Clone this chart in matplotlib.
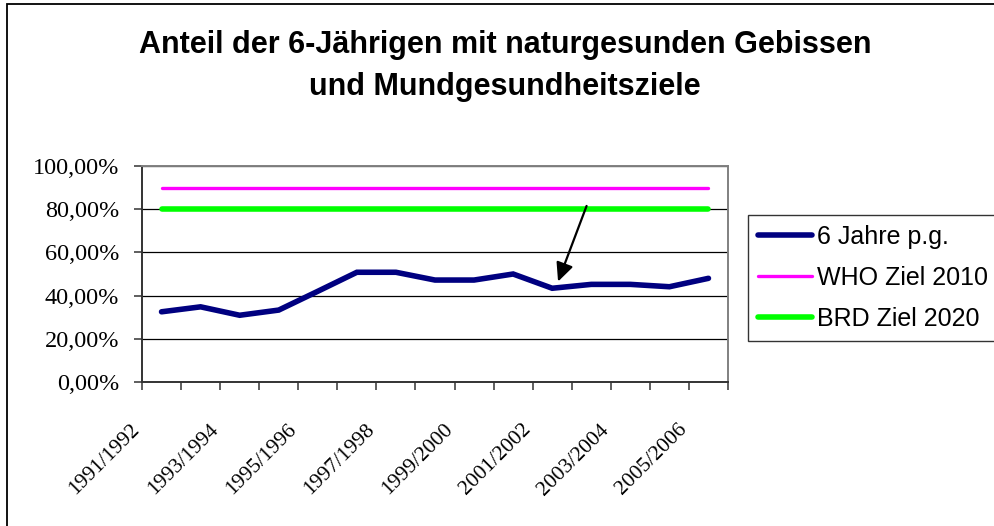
import matplotlib
matplotlib.use("Agg")
import matplotlib.pyplot as plt
from matplotlib.transforms import ScaledTranslation
from matplotlib.patches import Rectangle

# ---------------- data ----------------
categories = ["1991/1992", "1992/1993", "1993/1994", "1994/1995", "1995/1996",
              "1996/1997", "1997/1998", "1998/1999", "1999/2000", "2000/2001",
              "2001/2002", "2002/2003", "2003/2004", "2004/2005", "2005/2006"]
kids_6 = [32.5, 34.8, 30.9, 33.3, 42.0, 50.8, 50.8, 47.2, 47.2, 50.0,
          43.4, 45.2, 45.2, 44.1, 48.0]
who_2010 = [90.0, 90.0, 90.0, 90.0, 90.0, 90.0, 90.0, 90.0, 90.0, 90.0,
            90.0, 90.0, 90.0, 90.0, 90.0]
brd_2020 = [80.0, 80.0, 80.0, 80.0, 80.0, 80.0, 80.0, 80.0, 80.0, 80.0,
            80.0, 80.0, 80.0, 80.0, 80.0]
series_names = ["6 Jahre p.g.", "WHO Ziel 2010", "BRD Ziel 2020"]
y_ticks = [0, 20, 40, 60, 80, 100]
y_tick_labels = ["0,00%", "20,00%", "40,00%", "60,00%", "80,00%", "100,00%"]
title = "Anteil der 6-Jährigen mit naturgesunden Gebissen\nund Mundgesundheitsziele"

# ---------------- figure ----------------
W, H = 994, 526
fig = plt.figure(figsize=(W / 100, H / 100), dpi=100)
fig.patch.set_facecolor("white")

ax = fig.add_axes([142 / W, 1 - 382 / H, 586 / W, 216 / H])
x = list(range(len(categories)))

ax.plot(x, kids_6, color="#000080", lw=4.0, solid_capstyle="round",
        solid_joinstyle="miter", label=series_names[0], zorder=4)
ax.plot(x, who_2010, color="#FF00FF", lw=2.4, solid_capstyle="round",
        label=series_names[1], zorder=3)
ax.plot(x, brd_2020, color="#00FF00", lw=4.0, solid_capstyle="round",
        label=series_names[2], zorder=3)

ax.set_xlim(-0.5, len(categories) - 0.5)
ax.set_ylim(0, 100)

# grid
ax.set_yticks(y_ticks)
ax.set_yticklabels(y_tick_labels, family="Liberation Serif", fontsize=17.5)
ax.yaxis.grid(True, color="black", lw=0.9)
ax.set_axisbelow(True)
ax.tick_params(axis="y", direction="out", length=6, width=1.1, pad=10.5,
               color="#333333")

# x ticks: major at category boundaries, minor (labelled) at centers
ax.set_xticks([i - 0.5 for i in range(len(categories) + 1)])
ax.set_xticklabels([])
ax.tick_params(axis="x", which="major", direction="out", length=6, width=1.1,
               color="#333333")
ax.set_xticks(x[::2], minor=True)
ax.set_xticklabels(categories[::2], minor=True, family="Liberation Serif",
                   fontsize=15.5, rotation=45, ha="right", va="top",
                   rotation_mode="anchor")
ax.tick_params(axis="x", which="minor", length=0, pad=27.5)
off = ScaledTranslation(-31 / 100, 0, fig.dpi_scale_trans)
for t in ax.xaxis.get_minor_ticks():
    t.label1.set_transform(t.label1.get_transform() + off)

for s in ["left", "bottom"]:
    ax.spines[s].set_color("#333333")
    ax.spines[s].set_linewidth(1.4)
for s in ["top", "right"]:
    ax.spines[s].set_color("#808080")
    ax.spines[s].set_linewidth(1.4)

# arrow annotation
ax.annotate("", xy=(10.15, 46.5), xytext=(10.88, 81.5),
            arrowprops=dict(arrowstyle="-|>,head_length=0.75,head_width=0.35",
                            color="black", lw=1.6, mutation_scale=15,
                            shrinkA=0, shrinkB=0), zorder=6)

# title
fig.text(505 / W, 1 - 66 / H, title, ha="center", va="center",
         family="Liberation Sans", fontweight="bold", fontsize=22,
         linespacing=1.5)

# legend
leg = ax.legend(loc="upper left", bbox_to_anchor=(748 / W, 1 - 215 / H),
                bbox_transform=fig.transFigure, borderaxespad=0,
                prop={"family": "Liberation Sans", "size": 18},
                handlelength=2.15, handletextpad=0.2, labelspacing=0.68,
                borderpad=0.4, frameon=True, fancybox=False)
leg.get_frame().set_edgecolor("black")
leg.get_frame().set_linewidth(1.0)

# outer chart frame
fig.add_artist(Rectangle((7 / W, -0.2), 1.2, 1 - 4 / H + 0.2,
                         transform=fig.transFigure, fill=False,
                         ec="black", lw=1.3))

fig.savefig("out.png", dpi=100, facecolor="white")
